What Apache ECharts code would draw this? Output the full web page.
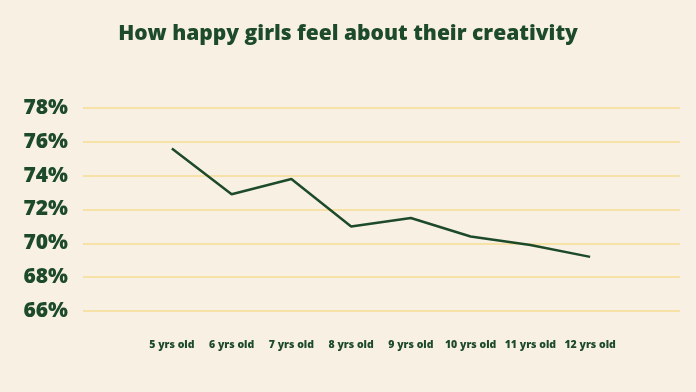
<!DOCTYPE html>
<html>
<head>
<meta charset="utf-8">
<script src="https://cdn.jsdelivr.net/npm/echarts@6/dist/echarts.min.js"></script>
<style>
html,body{margin:0;padding:0;background:#f8f0e3;}
#chart{width:696px;height:392px;}
</style>
</head>
<body>
<div id="chart"></div>
<script>
const categories = ['5 yrs old','6 yrs old','7 yrs old','8 yrs old','9 yrs old','10 yrs old','11 yrs old','12 yrs old'];
const happiness = [75.6, 72.9, 73.8, 71.0, 71.5, 70.4, 69.9, 69.2];
const yTicks = [66, 68, 70, 72, 74, 76, 78];

const green = '#1d4a29';
const fontFam = '"Open Sans", "DejaVu Sans", sans-serif';
const chart = echarts.init(document.getElementById('chart'));
chart.setOption({
  backgroundColor: '#f8f0e3',
  animation: false,
  title: {
    text: 'How happy girls feel about their creativity',
    left: 'center', top: 19,
    textStyle: {color: green, fontSize: 21, fontWeight: 800, fontFamily: fontFam}
  },
  grid: [
    {left: 83, right: 16, top: 108, bottom: 81},
    {left: 142, right: 76, top: 108, bottom: 81}
  ],
  xAxis: [
    {type: 'category', gridIndex: 0, show: false, data: categories},
    {type: 'category', gridIndex: 1, data: categories, boundaryGap: true,
     axisLine: {show: false}, axisTick: {show: false},
     axisLabel: {color: green, fontSize: 10.5, fontWeight: 800, fontFamily: fontFam, margin: 29, interval: 0}}
  ],
  yAxis: [
    {type: 'value', gridIndex: 0, min: yTicks[0], max: yTicks[yTicks.length-1], interval: 2,
     axisLine: {show: false}, axisTick: {show: false},
     splitLine: {lineStyle: {color: '#f6dc93', width: 1.5}},
     axisLabel: {formatter: '{value}%', color: green, fontSize: 21, fontWeight: 800, fontFamily: fontFam, margin: 15}},
    {type: 'value', gridIndex: 1, min: yTicks[0], max: yTicks[yTicks.length-1], interval: 2, show: false,
     splitLine: {show: false}}
  ],
  series: [{
    type: 'line', xAxisIndex: 1, yAxisIndex: 1, data: happiness,
    symbol: 'none', lineStyle: {color: green, width: 2.5}
  }]
});
</script>
</body>
</html>
